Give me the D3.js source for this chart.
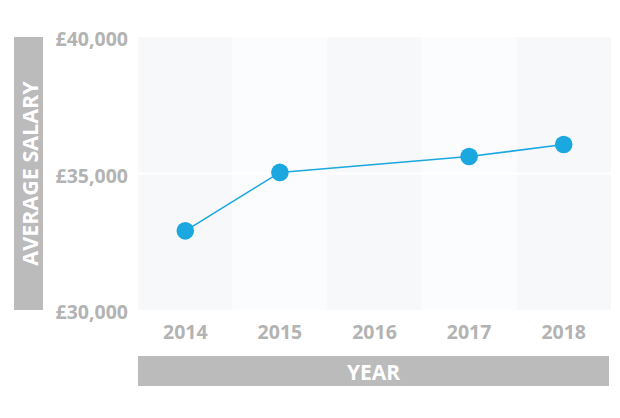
<!DOCTYPE html>
<html><head><meta charset="utf-8">
<script src="https://cdn.jsdelivr.net/npm/d3@7"></script>
<style>
html,body{margin:0;padding:0;background:#fff;}
svg{display:block;font-family:"Open Sans",sans-serif;}
</style></head>
<body><svg id="c" width="620" height="418"></svg>
<script>
const years = ["2014","2015","2016","2017","2018"];
const salaries = [32900, 35040, null, 35620, 36060];
const yTicks = [30000, 35000, 40000];
const yTitle = "AVERAGE SALARY";
const xTitle = "YEAR";

const svg = d3.select("#c");
const L = 138, R = 611, T = 37, B = 310;
const x = d3.scaleBand().domain(years).range([L, R]).padding(0);
const y = d3.scaleLinear().domain([30000, 40000]).range([B, T]);

// bands
svg.append("g").selectAll("rect").data(years).join("rect")
  .attr("x", d => x(d)).attr("y", T).attr("width", x.bandwidth()).attr("height", B - T)
  .attr("fill", (d, i) => i % 2 === 0 ? "#f7f8fa" : "#fbfcfd");

// gridline at 35000
svg.append("g").selectAll("line").data(yTicks.filter(v => v > 30000 && v < 40000)).join("line")
  .attr("x1", L).attr("x2", R).attr("y1", d => y(d)).attr("y2", d => y(d))
  .attr("stroke", "#fff").attr("stroke-width", 2);

// y axis labels
const fmt = d => "£" + d3.format(",")(d);
const yAxis = d3.axisLeft(y).tickValues(yTicks).tickFormat(fmt).tickSize(0).tickPadding(10);
const gy = svg.append("g").attr("transform", `translate(${L},0)`).call(yAxis);
gy.select(".domain").remove();
gy.selectAll("text").attr("font-family", "Open Sans").attr("font-weight", "bold")
  .attr("font-size", 19.5).attr("fill", "#b3b3b3").attr("dy", "0.45em");

// x axis labels
const xAxis = d3.axisBottom(x).tickSize(0).tickPadding(15);
const gx = svg.append("g").attr("transform", `translate(0,${B})`).call(xAxis);
gx.select(".domain").remove();
gx.selectAll("text").attr("font-family", "Open Sans").attr("font-weight", "bold")
  .attr("font-size", 19.5).attr("fill", "#b3b3b3");

// y title box
svg.append("rect").attr("x", 14).attr("y", T).attr("width", 29).attr("height", B - T).attr("fill", "#bbbbbb");
svg.append("text").attr("transform", `translate(${29.5},${(T + B) / 2}) rotate(-90)`)
  .attr("text-anchor", "middle").attr("dominant-baseline", "central")
  .attr("font-weight", "bold").attr("font-size", 21.5).attr("fill", "#fff").text(yTitle);

// x title box
svg.append("rect").attr("x", 138).attr("y", 356).attr("width", 471).attr("height", 30).attr("fill", "#bbbbbb");
svg.append("text").attr("x", (138 + 609) / 2).attr("y", 372)
  .attr("text-anchor", "middle").attr("dominant-baseline", "central")
  .attr("font-weight", "bold").attr("font-size", 21).attr("fill", "#fff").text(xTitle);

// line
const pts = years.map((yr, i) => ({yr, v: salaries[i]})).filter(d => d.v != null);
const cx = d => x(d.yr) + x.bandwidth() / 2;
svg.append("path").datum(pts)
  .attr("d", d3.line().x(cx).y(d => y(d.v)))
  .attr("fill", "none").attr("stroke", "#1ba8e0").attr("stroke-width", 1.6);
svg.append("g").selectAll("circle").data(pts).join("circle")
  .attr("cx", cx).attr("cy", d => y(d.v)).attr("r", 8.8).attr("fill", "#1ba8e0");
</script></body></html>
